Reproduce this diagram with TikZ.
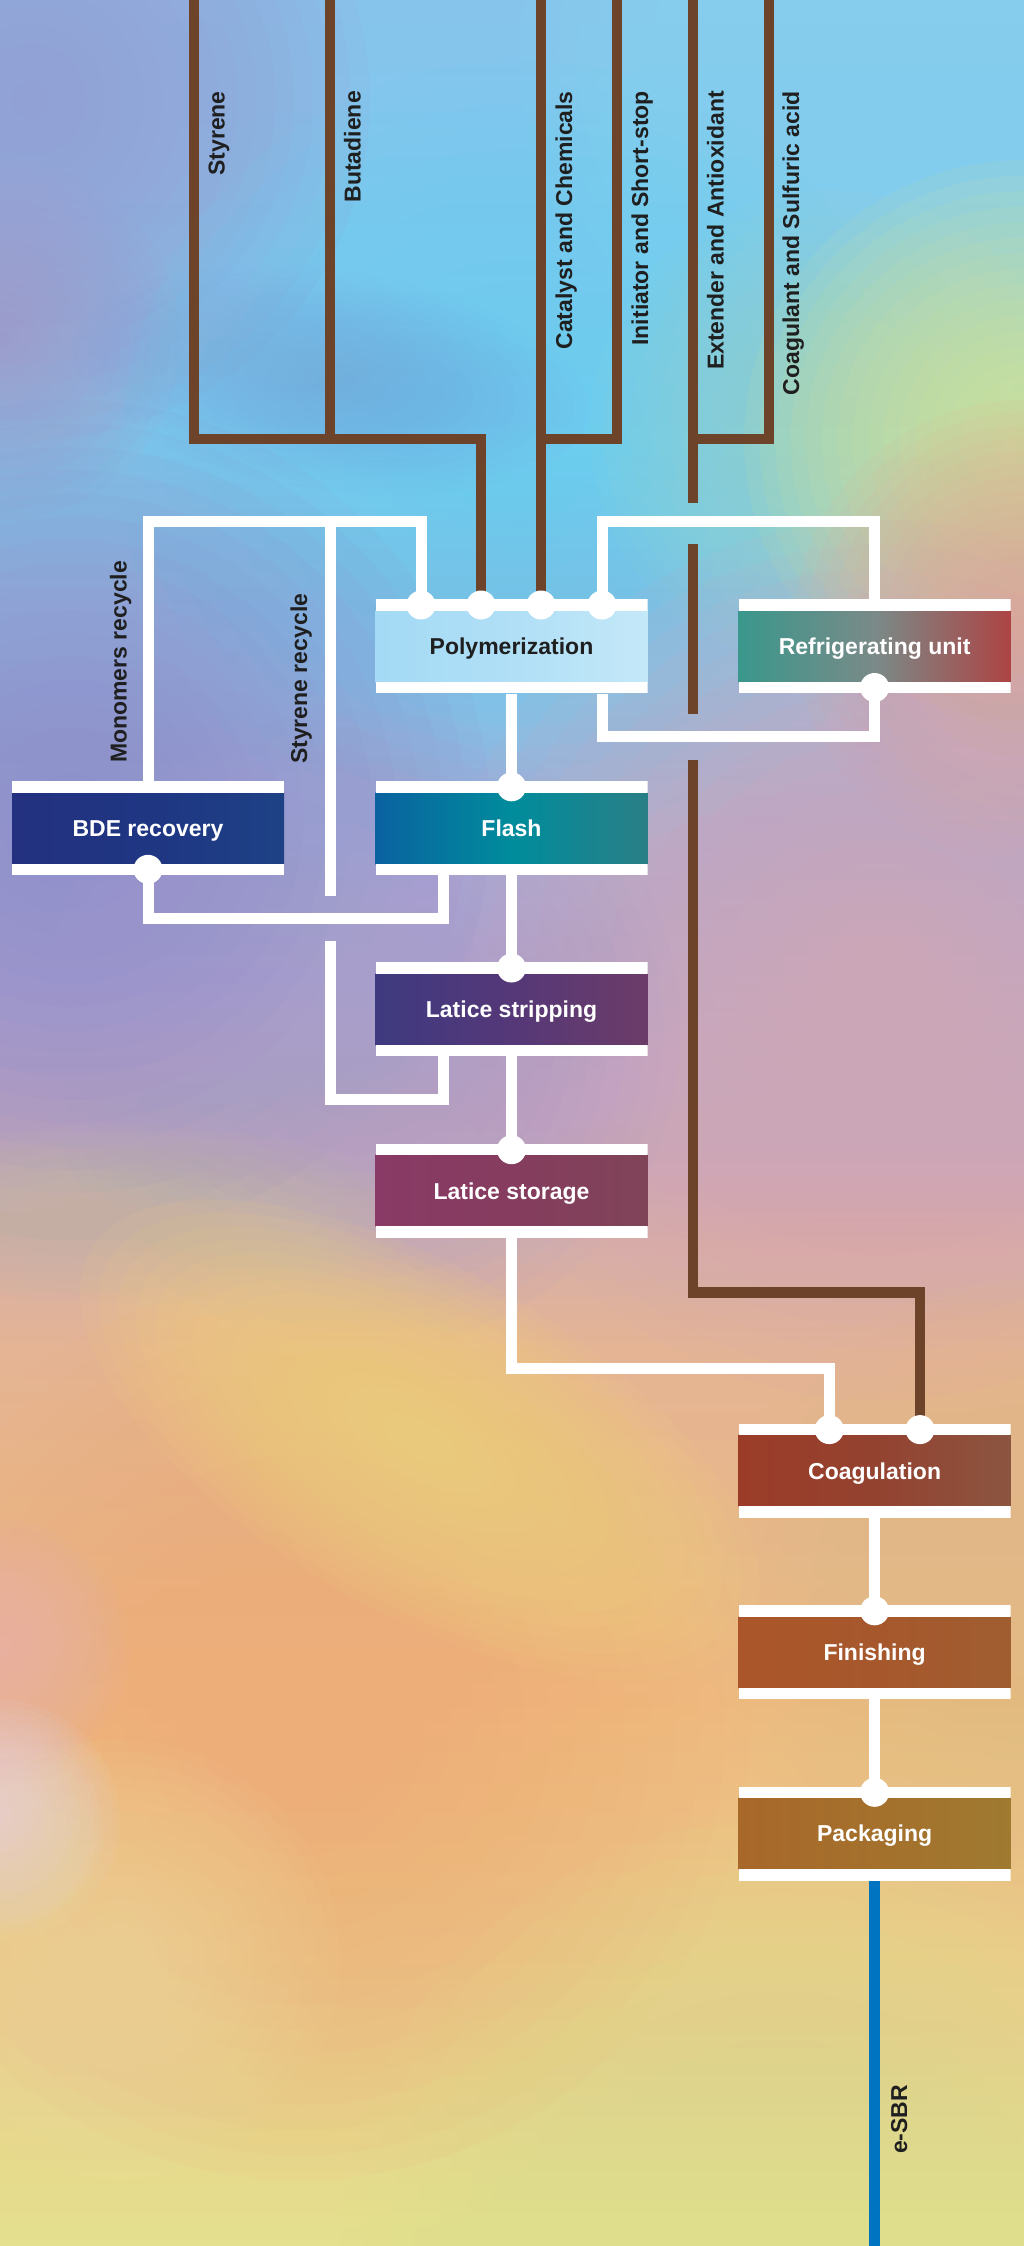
\documentclass[tikz,border=0pt]{standalone}
\usepackage{fontspec}
\setmainfont{Liberation Sans}
\pgfdeclarelayer{back}
\pgfdeclarelayer{lines}
\pgfsetlayers{back,lines,main}

\definecolor{brownline}{HTML}{6D4329}
\definecolor{blueline}{HTML}{0074C1}
\definecolor{labeltext}{HTML}{1F1F1F}
% background
\definecolor{bgA}{HTML}{86C4EC}
\definecolor{bgB}{HTML}{7CCDEF}
\definecolor{bgC}{HTML}{A6B2DA}
\definecolor{bgD}{HTML}{C6A8C2}
\definecolor{bgE}{HTML}{E4B494}
\definecolor{bgF}{HTML}{EEBA80}
\definecolor{bgG}{HTML}{EACE8A}
\definecolor{bgH}{HTML}{E4E08E}
\definecolor{blLav}{HTML}{9AA0D6}
\definecolor{blLavP}{HTML}{A89CCC}
\definecolor{blStreak}{HTML}{80A4DC}
\definecolor{blCyan}{HTML}{6CCDF3}
\definecolor{blCyanR}{HTML}{8CD8EE}
\definecolor{blMint}{HTML}{A4DCC4}
\definecolor{blYG}{HTML}{DCE892}
\definecolor{blSalmon}{HTML}{EAA492}
\definecolor{blPink}{HTML}{D8A6B6}
\definecolor{blPurple}{HTML}{8E8CCB}
\definecolor{blLav2}{HTML}{A89ED0}
\definecolor{blGray}{HTML}{C4BEA4}
\definecolor{blYellow}{HTML}{F4D47C}
\definecolor{blOrange}{HTML}{F0AE7A}
\definecolor{blPinkL}{HTML}{E8B0B2}
\definecolor{blWhite}{HTML}{E6D6E6}
\definecolor{blPale}{HTML}{EEDCA0}
\definecolor{blTanR}{HTML}{E2BE88}
\definecolor{blYG2}{HTML}{DEDE8C}
% boxes
\definecolor{polyL}{HTML}{A4DAF5}\definecolor{polyM}{HTML}{B0DFF6}\definecolor{polyR}{HTML}{C4E8F8}
\definecolor{refL}{HTML}{3A978C}\definecolor{refM}{HTML}{7A8A88}\definecolor{refR}{HTML}{AD4444}
\definecolor{bdeL}{HTML}{233180}\definecolor{bdeM}{HTML}{1F3683}\definecolor{bdeR}{HTML}{1E4185}
\definecolor{flaL}{HTML}{0A62A0}\definecolor{flaM}{HTML}{008C9C}\definecolor{flaR}{HTML}{2A7F86}
\definecolor{strL}{HTML}{3E3A80}\definecolor{strM}{HTML}{553878}\definecolor{strR}{HTML}{6C3C68}
\definecolor{stoL}{HTML}{893A66}\definecolor{stoM}{HTML}{853C5E}\definecolor{stoR}{HTML}{7F4458}
\definecolor{coaL}{HTML}{9B3C28}\definecolor{coaM}{HTML}{944230}\definecolor{coaR}{HTML}{8B5540}
\definecolor{finL}{HTML}{AB552A}\definecolor{finM}{HTML}{A6582C}\definecolor{finR}{HTML}{A05D30}
\definecolor{pacL}{HTML}{A8682A}\definecolor{pacM}{HTML}{A4702C}\definecolor{pacR}{HTML}{A07A30}

\newcommand\boxfnt{\fontsize{23}{27}\selectfont\bfseries}
\newcommand\lblfnt{\fontsize{23}{27}\selectfont\bfseries}

% soft blob: color, center, rx, ry, angle, alpha per ring
\newcommand\sblob[6]{%
  \foreach \k in {1,...,18}{%
    \fill[#1, fill opacity=#6, rotate around={#5:#2}] #2 ellipse ({#3*\k/18} and {#4*\k/18});
  }%
}

\tikzset{
  wline/.style={draw=white, line width=11pt, line join=miter, line cap=butt},
  bline/.style={draw=brownline, line width=10.5pt, line join=miter, line cap=butt},
  sbrline/.style={draw=blueline, line width=11pt, line cap=butt},
  dot/.style={circle, fill=white, minimum size=29pt, inner sep=0pt},
  procbox/.style={rectangle, minimum width=272pt, minimum height=94pt,
    inner sep=0pt, text height=16.5pt, text depth=0pt, text=white, font=\boxfnt,
    path picture={
      \shade[left color=#1L, right color=#1R, middle color=#1M]
        ([yshift=11pt]path picture bounding box.south west) rectangle ([yshift=-11pt]path picture bounding box.north east);
      \fill[white] (path picture bounding box.north west) rectangle ([yshift=-11.5pt]path picture bounding box.north east);
      \fill[white] (path picture bounding box.south west) rectangle ([yshift=11.5pt]path picture bounding box.south east);
    }},
  vlabel/.style={rotate=90, text=labeltext, font=\lblfnt, inner sep=0pt}
}

\begin{document}
\begin{tikzpicture}[x=1pt, y=-1pt]
\useasboundingbox (0,0) rectangle (1024,2246);

% ---------------- background ----------------
\begin{pgfonlayer}{back}
\begin{scope}
\clip (0,0) rectangle (1024,2246);
\shade[top color=bgA, bottom color=bgB] (0,-1) rectangle (1024,451);
\shade[top color=bgB, bottom color=bgC] (0,450) rectangle (1024,801);
\shade[top color=bgC, bottom color=bgD] (0,800) rectangle (1024,1101);
\shade[top color=bgD, bottom color=bgE] (0,1100) rectangle (1024,1351);
\shade[top color=bgE, bottom color=bgF] (0,1350) rectangle (1024,1701);
\shade[top color=bgF, bottom color=bgG] (0,1700) rectangle (1024,2001);
\shade[top color=bgG, bottom color=bgH] (0,2000) rectangle (1024,2247);

\sblob{blCyanR}{(860,60)}{340}{340}{0}{0.08}
\sblob{blLav}{(30,100)}{340}{340}{0}{0.1}
\sblob{blLavP}{(0,340)}{180}{180}{0}{0.07}
\sblob{blCyan}{(520,460)}{400}{400}{0}{0.08}
\sblob{blStreak}{(330,380)}{260}{110}{-8}{0.05}
\sblob{blMint}{(830,430)}{240}{240}{0}{0.06}
\sblob{blYG}{(1024,440)}{280}{280}{0}{0.09}
\sblob{blSalmon}{(1024,630)}{230}{230}{0}{0.08}
\sblob{blPink}{(880,960)}{440}{440}{0}{0.07}
\sblob{blPurple}{(70,820)}{420}{420}{0}{0.08}
\sblob{blLav2}{(360,1030)}{320}{320}{0}{0.06}
\sblob{blGray}{(120,1215)}{300}{90}{0}{0.06}
\sblob{blOrange}{(300,1730)}{450}{450}{0}{0.07}
\sblob{blYellow}{(420,1440)}{380}{170}{-30}{0.09}
\sblob{blPinkL}{(0,1650)}{130}{130}{0}{0.07}
\sblob{blWhite}{(0,1820)}{120}{120}{0}{0.09}
\sblob{blPale}{(120,1960)}{220}{220}{0}{0.06}
\sblob{blTanR}{(1024,1600)}{320}{320}{0}{0.06}
\sblob{blYG2}{(780,2260)}{440}{440}{0}{0.07}
\end{scope}
\end{pgfonlayer}

% ---------------- boxes ----------------
\node[procbox=poly, text=labeltext] (poly) at (511.5,646.3) {Polymerization};
\node[procbox=ref] (refrig) at (874.6,646.3) {Refrigerating unit};
\node[procbox=bde] (bde) at (148,828) {BDE recovery};
\node[procbox=fla] (flash) at (511.5,828) {Flash};
\node[procbox=str] (strip) at (511.5,1009.2) {Latice stripping};
\node[procbox=sto] (storage) at (511.5,1190.9) {Latice storage};
\node[procbox=coa] (coag) at (874.6,1470.9) {Coagulation};
\node[procbox=fin] (finish) at (874.6,1652) {Finishing};
\node[procbox=pac] (pack) at (874.6,1833.5) {Packaging};

% ---------------- dots ----------------
\node[dot] (dP1) at (421,605) {};
\node[dot] (dP2) at (481,605) {};
\node[dot] (dP3) at (541,605) {};
\node[dot] (dP4) at (602,605) {};
\node[dot] (dR) at (874.6,687.5) {};
\node[dot] (dF) at (511.5,786.8) {};
\node[dot] (dB) at (148,869.3) {};
\node[dot] (dS) at (511.5,968) {};
\node[dot] (dSt) at (511.5,1149.7) {};
\node[dot] (dC1) at (829.3,1429.6) {};
\node[dot] (dC2) at (920,1429.6) {};
\node[dot] (dFi) at (874.6,1610.8) {};
\node[dot] (dPk) at (874.6,1792.3) {};

% ---------------- free ends / junctions ----------------
\coordinate (tSty) at (194,0);
\coordinate (tBut) at (330,0);
\coordinate (tCat) at (541,0);
\coordinate (tIni) at (617,0);
\coordinate (tExt) at (693,0);
\coordinate (tCoa) at (769,0);
\coordinate (jSB) at (330,439);
\coordinate (jCI) at (541,439);
\coordinate (jEC) at (693,439);
\coordinate (jMS) at (330,521.5);
\coordinate (out) at (874.6,2246);

% ---------------- connectors ----------------
\begin{pgfonlayer}{lines}
% brown feeds
\draw[bline] (tSty) -- (194,439) -- (481,439) -- (dP2.center);
\draw[bline] (tBut) -- (jSB);
\draw[bline] (tCat) -- (dP3.center);
\draw[bline] (tIni) -- (617,439) -- (jCI);
\draw[bline] (tCoa) -- (769,439) -- (jEC);
\draw[bline] (tExt) -- (693,502.7);
\draw[bline] (693,544) -- (693,714);
\draw[bline] (693,760) -- (693,1292.5) -- (920,1292.5) -- (dC2.center);
% white process lines
\draw[wline] (bde.north) -- (148,521.5) -- (421,521.5) -- (dP1.center);
\draw[wline] ([xshift=-67.7pt]strip.south) -- (443.8,1099.5) -- (330,1099.5) -- (330,941);
\draw[wline] (330,896) -- (jMS);
\draw[wline] ([xshift=-67.7pt]flash.south) -- (443.8,918.5) -- (148,918.5) -- (dB.center);
\draw[wline] (poly.south) -- (dF.center);
\draw[wline] (flash.south) -- (dS.center);
\draw[wline] (strip.south) -- (dSt.center);
\draw[wline] (storage.south) -- (511.5,1368.5) -- (829.3,1368.5) -- (dC1.center);
\draw[wline] (coag.south) -- (dFi.center);
\draw[wline] (finish.south) -- (dPk.center);
\draw[wline] (refrig.north) -- (874.6,521.5) -- (602,521.5) -- (dP4.center);
\draw[wline] ([xshift=90.5pt]poly.south) -- (602,736.5) -- (874.6,736.5) -- (dR.center);
% product
\draw[sbrline] (pack.south) -- (out);
\end{pgfonlayer}

% ---------------- labels ----------------
\node[vlabel, anchor=base east] (lSty) at (224.5,91) {Styrene};
\node[vlabel, anchor=base east] (lBut) at (360.5,91) {Butadiene};
\node[vlabel, anchor=base east] (lCat) at (572,91) {Catalyst and Chemicals};
\node[vlabel, anchor=base east] (lIni) at (648,91) {Initiator and Short-stop};
\node[vlabel, anchor=base east] (lExt) at (723.5,91) {Extender and Antioxidant};
\node[vlabel, anchor=base east] (lCoa) at (799,91) {Coagulant and Sulfuric acid};
\node[vlabel, anchor=base west] (lMon) at (126.5,763) {Monomers recycle};
\node[vlabel, anchor=base west] (lSre) at (307,764) {Styrene recycle};
\node[vlabel, anchor=base west] (lSBR) at (907,2154) {e-SBR};
\end{tikzpicture}
\end{document}
